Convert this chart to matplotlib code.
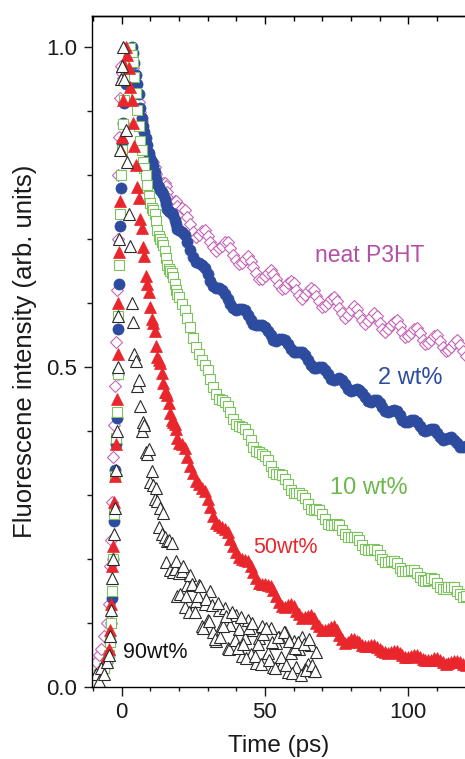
import matplotlib
matplotlib.use("Agg")
import matplotlib.pyplot as plt
from matplotlib.ticker import MultipleLocator, FormatStrFormatter

plt.rcParams['font.family'] = ['Liberation Sans', 'DejaVu Sans']

# ---------------- data ----------------
# common rise times (ps)
t_rise = [-10, -9, -8, -7, -6, -5, -4.5, -4, -3.5, -3.2, -2.9, -2.6, -2.3,
          -2.0, -1.7, -1.4, -1.1, -0.8, -0.5, -0.2]
# common decay times (ps)
t_decay = [0, 0.5, 1, 1.5, 2, 2.5, 3, 3.5, 4, 4.5,
           5, 5.5, 6, 6.5, 7, 7.5, 8, 8.5, 9, 9.5,
           10, 10.5, 11, 11.5, 12, 12.5, 13, 13.5, 14, 14.5,
           15, 15.5, 16, 16.5, 17, 17.5, 18, 18.5, 19, 19.5,
           20,
           21, 22, 23, 24, 25, 26, 27, 28, 29, 30,
           31, 32, 33, 34, 35, 36, 37, 38, 39, 40,
           41, 42, 43, 44, 45, 46, 47, 48, 49, 50,
           51, 52, 53, 54, 55, 56, 57, 58, 59, 60,
           61, 62, 63, 64, 65, 66, 67, 68, 69, 70,
           71, 72, 73, 74, 75, 76, 77, 78, 79, 80,
           81, 82, 83, 84, 85, 86, 87, 88, 89, 90,
           91, 92, 93, 94, 95, 96, 97, 98, 99, 100,
           101, 102, 103, 104, 105, 106, 107, 108, 109, 110,
           111, 112, 113, 114, 115, 116, 117, 118, 119, 120]

p3ht_rise = [0.03, 0.04, 0.05, 0.06, 0.08, 0.10, 0.13, 0.19, 0.23, 0.29, 0.36,
             0.41, 0.47, 0.54, 0.62, 0.70, 0.80, 0.86, 0.92, 0.97]
p3ht_decay = [0.960, 0.952, 0.948, 0.955, 0.958, 0.968, 0.972, 0.977, 0.968, 0.958,
              0.944, 0.928, 0.914, 0.899, 0.884, 0.871, 0.858, 0.849, 0.838, 0.829,
              0.822, 0.822, 0.820, 0.812, 0.802, 0.792, 0.785, 0.783, 0.784, 0.787,
              0.788, 0.783, 0.773, 0.763, 0.755, 0.752, 0.756, 0.760, 0.760, 0.752,
              0.741,
              0.748, 0.745, 0.734, 0.723, 0.711, 0.704, 0.707, 0.712, 0.714, 0.705,
              0.696, 0.687, 0.681, 0.686, 0.690, 0.695, 0.695, 0.686, 0.676, 0.668,
              0.661, 0.663, 0.669, 0.673, 0.666, 0.656, 0.647, 0.638, 0.638, 0.643,
              0.647, 0.652, 0.646, 0.637, 0.629, 0.622, 0.623, 0.631, 0.635, 0.631,
              0.620, 0.612, 0.607, 0.612, 0.619, 0.624, 0.620, 0.611, 0.603, 0.594,
              0.595, 0.601, 0.606, 0.610, 0.603, 0.592, 0.585, 0.577, 0.582, 0.590,
              0.595, 0.591, 0.582, 0.574, 0.568, 0.572, 0.579, 0.585, 0.580, 0.569,
              0.560, 0.555, 0.560, 0.566, 0.571, 0.574, 0.564, 0.555, 0.547, 0.549,
              0.554, 0.560, 0.561, 0.553, 0.543, 0.536, 0.537, 0.543, 0.548, 0.550,
              0.541, 0.532, 0.525, 0.527, 0.532, 0.538, 0.542, 0.535, 0.525, 0.518]

wt2_rise = [0.00, 0.01, 0.02, 0.02, 0.03, 0.04, 0.05, 0.07, 0.10, 0.14, 0.20,
            0.26, 0.34, 0.38, 0.42, 0.49, 0.56, 0.63, 0.72, 0.78]
wt2_decay = [0.850, 0.882, 0.912, 0.943, 0.966, 0.986, 0.996, 1.000, 0.991, 0.975,
             0.956, 0.942, 0.926, 0.905, 0.889, 0.876, 0.867, 0.858, 0.847, 0.835,
             0.826, 0.821, 0.814, 0.805, 0.794, 0.786, 0.781, 0.777, 0.774, 0.770,
             0.763, 0.755, 0.747, 0.744, 0.743, 0.741, 0.738, 0.730, 0.723, 0.716,
             0.714,
             0.711, 0.706, 0.695, 0.683, 0.672, 0.665, 0.662, 0.659, 0.655, 0.646,
             0.635, 0.627, 0.624, 0.623, 0.620, 0.615, 0.607, 0.598, 0.592, 0.590,
             0.591, 0.591, 0.589, 0.582, 0.573, 0.568, 0.566, 0.566, 0.566, 0.563,
             0.557, 0.550, 0.543, 0.541, 0.544, 0.544, 0.542, 0.536, 0.528, 0.523,
             0.523, 0.524, 0.523, 0.519, 0.511, 0.504, 0.499, 0.499, 0.500, 0.500,
             0.495, 0.489, 0.482, 0.480, 0.482, 0.483, 0.480, 0.473, 0.466, 0.463,
             0.464, 0.466, 0.465, 0.460, 0.453, 0.447, 0.446, 0.448, 0.449, 0.444,
             0.438, 0.432, 0.430, 0.432, 0.433, 0.431, 0.425, 0.418, 0.414, 0.415,
             0.417, 0.418, 0.414, 0.408, 0.402, 0.401, 0.402, 0.404, 0.403, 0.397,
             0.391, 0.387, 0.388, 0.390, 0.391, 0.387, 0.381, 0.376, 0.375, 0.377]

wt10_rise = [0.01, 0.01, 0.02, 0.02, 0.03, 0.04, 0.05, 0.07, 0.10, 0.15, 0.20,
             0.27, 0.33, 0.39, 0.43, 0.49, 0.58, 0.66, 0.74, 0.80]
wt10_decay = [0.840, 0.880, 0.918, 0.951, 0.974, 0.991, 0.998, 0.988, 0.976, 0.953,
              0.929, 0.902, 0.876, 0.853, 0.839, 0.821, 0.811, 0.800, 0.784, 0.768,
              0.756, 0.749, 0.745, 0.739, 0.728, 0.715, 0.705, 0.700, 0.696, 0.691,
              0.681, 0.670, 0.660, 0.654, 0.651, 0.647, 0.641, 0.630, 0.621, 0.614,
              0.610,
              0.599, 0.589, 0.577, 0.562, 0.545, 0.531, 0.520, 0.512, 0.504, 0.495,
              0.482, 0.469, 0.458, 0.451, 0.449, 0.445, 0.439, 0.430, 0.419, 0.411,
              0.408, 0.406, 0.403, 0.396, 0.386, 0.376, 0.369, 0.367, 0.365, 0.362,
              0.355, 0.346, 0.337, 0.333, 0.333, 0.332, 0.326, 0.317, 0.308, 0.303,
              0.303, 0.303, 0.301, 0.295, 0.286, 0.279, 0.277, 0.278, 0.277, 0.271,
              0.263, 0.255, 0.253, 0.254, 0.255, 0.253, 0.246, 0.239, 0.234, 0.234,
              0.235, 0.235, 0.230, 0.223, 0.216, 0.214, 0.215, 0.216, 0.214, 0.207,
              0.200, 0.196, 0.196, 0.198, 0.198, 0.194, 0.187, 0.182, 0.181, 0.182,
              0.183, 0.183, 0.178, 0.172, 0.167, 0.166, 0.168, 0.170, 0.169, 0.163,
              0.157, 0.153, 0.153, 0.156, 0.157, 0.156, 0.151, 0.146, 0.141, 0.142]

wt50_rise = [0.01, 0.02, 0.02, 0.03, 0.04, 0.05, 0.06, 0.09, 0.13, 0.19, 0.22,
             0.29, 0.33, 0.38, 0.45, 0.52, 0.60, 0.68, 0.76, 0.84]
wt50_decay = [0.860, 0.918, 0.972, 1.000, 0.988, 0.968, 0.938, 0.918, 0.882, 0.845,
              0.816, 0.782, 0.765, 0.731, 0.717, 0.688, 0.674, 0.642, 0.630, 0.618,
              0.594, 0.575, 0.569, 0.557, 0.533, 0.516, 0.512, 0.506, 0.491, 0.475,
              0.462, 0.461, 0.456, 0.444, 0.429, 0.417, 0.414, 0.412, 0.403, 0.390,
              0.381,
              0.380, 0.373, 0.359, 0.346, 0.334, 0.323, 0.317, 0.312, 0.306, 0.294,
              0.281, 0.268, 0.257, 0.254, 0.250, 0.247, 0.242, 0.231, 0.220, 0.211,
              0.203, 0.200, 0.199, 0.198, 0.189, 0.180, 0.171, 0.163, 0.161, 0.161,
              0.160, 0.159, 0.152, 0.143, 0.134, 0.127, 0.126, 0.129, 0.130, 0.127,
              0.119, 0.114, 0.109, 0.110, 0.111, 0.113, 0.108, 0.101, 0.096, 0.089,
              0.089, 0.091, 0.094, 0.095, 0.089, 0.081, 0.075, 0.069, 0.071, 0.076,
              0.075, 0.073, 0.070, 0.066, 0.064, 0.064, 0.066, 0.066, 0.063, 0.060,
              0.057, 0.055, 0.054, 0.055, 0.056, 0.057, 0.054, 0.050, 0.048, 0.048,
              0.049, 0.050, 0.050, 0.047, 0.044, 0.042, 0.042, 0.043, 0.045, 0.045,
              0.042, 0.040, 0.037, 0.038, 0.039, 0.041, 0.041, 0.040, 0.037, 0.035]

# 90 wt% decay only runs to 68 ps (first 89 entries of t_decay) ...
wt90_rise = [0.01, 0.02, 0.01, 0.03, 0.02, 0.04, 0.05, 0.08, 0.12, 0.17, 0.20,
             0.24, 0.28, 0.34, 0.40, 0.50, 0.58, 0.70, 0.84, 0.95]
wt90_decay = [0.970, 1.000, 0.950, 0.870, 0.820, 0.740, 0.690, 0.600, 0.570, 0.520,
              0.510, 0.470, 0.480, 0.440, 0.400, 0.415, 0.410, 0.368, 0.365, 0.372,
              0.320, 0.338, 0.316, 0.294, 0.312, 0.291, 0.250, 0.280, 0.240, 0.272,
              0.234, 0.196, 0.228, 0.230, 0.183, 0.226, 0.180, 0.184, 0.198, 0.143,
              0.178,
              0.182, 0.126, 0.160, 0.175, 0.120, 0.135, 0.160, 0.096, 0.130, 0.105,
              0.151, 0.087, 0.073, 0.120, 0.097, 0.124, 0.061, 0.098, 0.066, 0.113,
              0.091, 0.049, 0.077, 0.105, 0.052, 0.090, 0.038, 0.077, 0.095, 0.044,
              0.053, 0.092, 0.031, 0.069, 0.078, 0.037, 0.086, 0.024, 0.053, 0.072,
              0.031, 0.060, 0.079, 0.028, 0.037, 0.066, 0.025, 0.055]
t_wt90 = t_decay[:len(wt90_decay)]
# ... plus the half-step points of its noisy tail
t_wt90_tail = [20.5, 21.5, 22.5, 23.5, 24.5, 25.5, 26.5, 27.5, 28.5, 29.5,
               30.5, 31.5, 32.5, 33.5, 34.5, 35.5, 36.5, 37.5, 38.5, 39.5,
               40.5, 41.5, 42.5, 43.5, 44.5, 45.5, 46.5, 47.5, 48.5, 49.5,
               50.5, 51.5, 52.5, 53.5, 54.5, 55.5, 56.5, 57.5, 58.5, 59.5,
               60.5, 61.5, 62.5, 63.5, 64.5, 65.5, 66.5, 67.5]
wt90_tail = [0.145, 0.189, 0.143, 0.118, 0.162, 0.117, 0.142, 0.158, 0.093, 0.138,
             0.103, 0.129, 0.075, 0.131, 0.078, 0.095, 0.112, 0.060, 0.117, 0.074,
             0.062, 0.110, 0.068, 0.046, 0.093, 0.101, 0.049, 0.067, 0.036, 0.084,
             0.093, 0.042, 0.071, 0.030, 0.078, 0.047, 0.086, 0.035, 0.073, 0.022,
             0.061, 0.070, 0.019, 0.068, 0.027, 0.076, 0.035, 0.025]

labels = ["neat P3HT", "2 wt%", "10 wt%", "50wt%", "90wt%"]

# ---------------- figure ----------------
fig = plt.figure(figsize=(4.65, 7.59), dpi=100)
ax = fig.add_axes([92 / 465, (759 - 687.3) / 759, 373 / 465, (687.3 - 15.7) / 759])

c_pink = '#C564B8'
c_blue = '#2D4C9F'
c_green = '#7CC35E'
c_red = '#E8262C'
c_black = '#2A2A2A'

ax.plot(t_rise + t_decay, p3ht_rise + p3ht_decay, 'D', ms=6.4, mfc='white',
        mec=c_pink, mew=0.8, ls='none')
ax.plot(t_rise + t_decay, wt2_rise + wt2_decay, 'o', ms=8.0, color=c_blue,
        mec=c_blue, mew=0.5, ls='none')
ax.plot(t_rise + t_decay, wt10_rise + wt10_decay, 's', ms=6.8, mfc='white',
        mec=c_green, mew=0.8, ls='none')
ax.plot(t_rise + t_decay, wt50_rise + wt50_decay, '^', ms=8.0, color=c_red,
        mec=c_red, mew=0.5, ls='none')
ax.plot(t_rise + t_wt90 + t_wt90_tail, wt90_rise + wt90_decay + wt90_tail, '^',
        ms=8.2, mfc='white', mec=c_black, mew=0.8, ls='none')

ax.set_xlim(-10.3, 119.8)
ax.set_ylim(0, 1.049)

ax.xaxis.set_major_locator(MultipleLocator(50))
ax.xaxis.set_minor_locator(MultipleLocator(10))
ax.yaxis.set_major_locator(MultipleLocator(0.5))
ax.yaxis.set_minor_locator(MultipleLocator(0.1))
ax.yaxis.set_major_formatter(FormatStrFormatter('%.1f'))

ax.tick_params(axis='both', which='both', direction='out', width=1.0,
               labelsize=16, colors='#1a1a1a')
ax.tick_params(axis='x', which='major', length=6.5, pad=4)
ax.tick_params(axis='x', which='minor', length=3.2)
ax.tick_params(axis='y', which='major', length=5.5, pad=5)
ax.tick_params(axis='y', which='minor', length=3.4)
ax.tick_params(axis='x', which='both', top=False)
sec = ax.secondary_xaxis('top')
sec.xaxis.set_major_locator(MultipleLocator(50))
sec.xaxis.set_minor_locator(MultipleLocator(10))
sec.tick_params(axis='x', which='both', direction='in', labeltop=False, width=1.0)
sec.tick_params(axis='x', which='major', length=6.0)
sec.tick_params(axis='x', which='minor', length=3.5)
sec.spines['top'].set_linewidth(1.0)

for s in ['left', 'bottom', 'top']:
    ax.spines[s].set_linewidth(1.0)
ax.spines['right'].set_visible(False)

ax.set_xlabel('Time (ps)', fontsize=17.5, labelpad=9, color='#1a1a1a')
ax.set_ylabel('Fluorescene intensity (arb. units)', fontsize=18.5, labelpad=7,
              color='#1a1a1a')

ax.text(67.4, 0.674, labels[0], color='#B24FA6', fontsize=16.5, va='center', ha='left')
ax.text(89.4, 0.483, labels[1], color=c_blue, fontsize=17, va='center', ha='left')
ax.text(72.6, 0.311, labels[2], color='#6CB84C', fontsize=17, va='center', ha='left')
ax.text(45.9, 0.219, labels[3], color=c_red, fontsize=15.5, va='center', ha='left')
ax.text(0.6, 0.054, labels[4], color='#111111', fontsize=15.5, va='center', ha='left')

fig.savefig('out.png', dpi=100)
